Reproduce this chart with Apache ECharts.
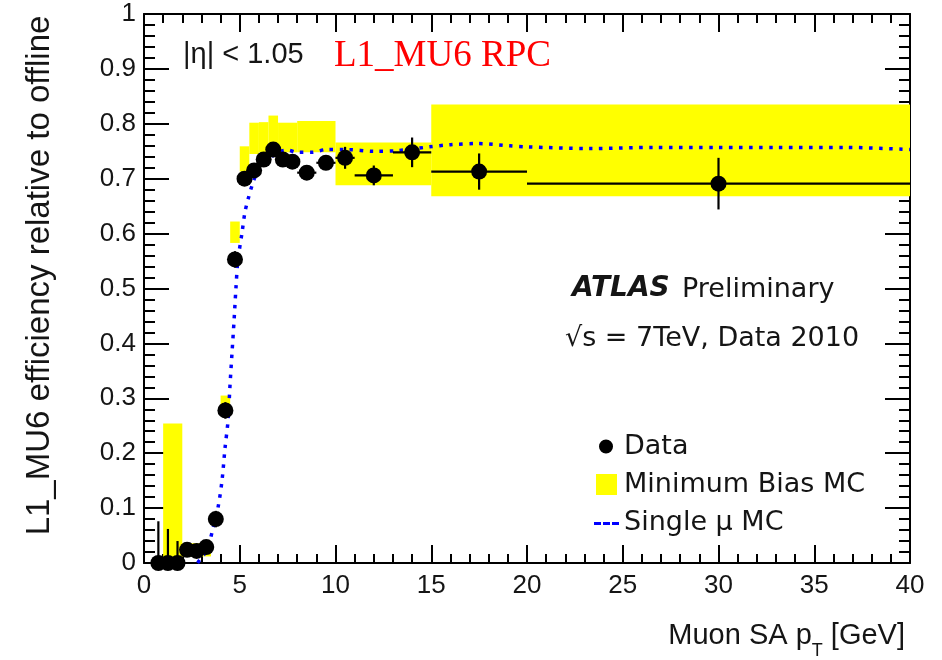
<!DOCTYPE html>
<html>
<head>
<meta charset="utf-8">
<script src="https://cdn.jsdelivr.net/npm/echarts@6/dist/echarts.min.js"></script>
<style>
html,body{margin:0;padding:0;background:#fff;}
#chart{width:942px;height:660px;}
</style>
</head>
<body>
<div id="chart"></div>
<script>
// ---- Data ----
// Data points: bin centres, half bin widths, efficiency, errors
const dataX      = [0.75,1.25,1.75,2.25,2.75,3.25,3.75,4.25,4.75,5.25,5.75,6.25,6.75,7.25,7.75,8.5,9.5,10.5,12,14,17.5,30];
const dataXHalf  = [0.25,0.25,0.25,0.25,0.25,0.25,0.25,0.25,0.25,0.25,0.25,0.25,0.25,0.25,0.25,0.5,0.5,0.5,1,1,2.5,10];
const dataEff    = [0,0,0,0.024,0.022,0.029,0.080,0.278,0.553,0.700,0.715,0.735,0.753,0.735,0.731,0.711,0.729,0.738,0.706,0.748,0.713,0.691];
const dataErrUp  = [0.076,0.062,0.040,0.012,0.010,0.010,0.015,0.015,0.015,0.010,0.010,0.010,0.010,0.010,0.010,0.010,0.010,0.020,0.018,0.027,0.033,0.047];
const dataErrDn  = [0,0,0,0.012,0.010,0.010,0.015,0.015,0.015,0.010,0.010,0.010,0.010,0.010,0.010,0.010,0.010,0.020,0.018,0.027,0.033,0.047];

// Minimum Bias MC band: bin edges and band low/high
const mcBinLo  = [1,2,4,4.5,5,5.5,6,6.5,7,8,10,15];
const mcBinHi  = [2,3.5,4.5,5,5.5,6,6.5,7,8,10,15,40];
const mcLow    = [0,0.012,0.280,0.583,0.713,0.745,0.748,0.750,0.748,0.748,0.688,0.668];
const mcHigh   = [0.254,0.036,0.305,0.622,0.759,0.802,0.803,0.815,0.802,0.805,0.766,0.835];

// Single muon MC curve
const muX = [2.8,3.0,3.3,3.6,3.86,4.07,4.23,4.39,4.49,4.6,4.7,4.8,4.9,5.12,5.27,5.43,5.69,5.9,6.2,6.6,7.0,7.5,8.0,8.8,9.5,10.6,12.0,13.2,14.9,16.0,17.4,19.1,20.0,23.3,26.6,30.0,33.0,36.7,40.0];
const muY = [0,0.010,0.024,0.063,0.100,0.149,0.209,0.260,0.323,0.385,0.440,0.500,0.550,0.602,0.639,0.662,0.693,0.710,0.725,0.738,0.748,0.752,0.748,0.748,0.753,0.753,0.750,0.751,0.758,0.762,0.764,0.760,0.758,0.755,0.757,0.757,0.757,0.757,0.753];

// Axis setup
const xMin = 0, xMax = 40, xStep = 5;
const yMin = 0, yMax = 1, yStep = 0.1;

// ---- Build options ----
const mcData  = mcBinLo.map((lo,i)=>[lo, mcBinHi[i], mcLow[i], mcHigh[i]]);
const ptData  = dataX.map((x,i)=>[x, dataEff[i]]);
const errData = dataX.map((x,i)=>[x, dataEff[i], x-dataXHalf[i], x+dataXHalf[i], dataEff[i]-dataErrDn[i], dataEff[i]+dataErrUp[i]]);
const muData  = muX.map((x,i)=>[x, muY[i]]);

const labelFont = 'Liberation Sans';
const txt = '#151515';

const chart = echarts.init(document.getElementById('chart'), null, {renderer:'canvas'});

function axisCommon(showLabel, isY){
  return {
    axisLine:{show:true, onZero:false, lineStyle:{color:'#000', width:2}},
    axisTick:{show:true, inside:true, length:isY?25:18, lineStyle:{color:'#000', width:2}},
    minorTick:{show:true, splitNumber:5, length:isY?11:9, lineStyle:{color:'#000', width:2}},
    splitLine:{show:false},
    minorSplitLine:{show:false},
    axisLabel:{show:showLabel, fontFamily:labelFont, fontSize:26, color:txt, margin:isY?8:10,
      formatter: v => (v===0?'0':(Math.abs(v-1)<1e-9?'1':(isY? v.toFixed(1): String(v))))}
  };
}

const option = {
  backgroundColor:'#fff',
  animation:false,
  grid:{left:144, right:32, top:14, bottom:95, containLabel:false},
  xAxis:[
    Object.assign({type:'value', min:xMin, max:xMax, interval:xStep, position:'bottom',
      name:'Muon SA p{s|T} [GeV]', nameLocation:'end', nameGap:-5,
      nameTextStyle:{align:'right', verticalAlign:'top', padding:[49,0,0,0], fontFamily:labelFont, fontSize:29, color:txt,
        rich:{s:{fontFamily:labelFont, fontSize:18, color:txt, padding:[30,0,0,0]}}}
    }, axisCommon(true,false)),
    Object.assign({type:'value', min:xMin, max:xMax, interval:xStep, position:'top'}, axisCommon(false,false))
  ],
  yAxis:[
    Object.assign({type:'value', min:yMin, max:yMax, interval:yStep, position:'left',
      name:'L1_MU6 efficiency relative to offline', nameLocation:'middle', nameRotate:90, nameGap:88,
      nameTextStyle:{fontFamily:labelFont, fontSize:33, color:txt, padding:[0,0,0,26]}
    }, axisCommon(true,true)),
    Object.assign({type:'value', min:yMin, max:yMax, interval:yStep, position:'right'}, axisCommon(false,true))
  ],
  legend:{
    left:588, top:428, orient:'vertical', itemGap:11, itemWidth:26, itemHeight:21,
    textStyle:{fontFamily:'DejaVu Sans', fontSize:27, color:txt},
    data:[
      {name:'Data', icon:'path://M0,0L0,0M21,21L21,21M10.5,3.5A7,7 0 1,0 10.51,3.5Z'},
      {name:'Minimum Bias MC', icon:'path://M0,0L0,0M26,21L26,21M3,0H24V21H3Z'},
      {name:'Single μ MC', icon:'path://M0,0L0,0M26,21L26,21M1,10H8V13H1ZM10,10H17V13H10ZM19,10H26V13H19Z'}
    ]
  },
  graphic:[
    {type:'text', left:183, top:40, style:{text:'|η| < 1.05', fontFamily:labelFont, fontSize:29, fill:txt}},
    {type:'text', left:334, top:38, style:{text:'L1_MU6 RPC', fontFamily:'Liberation Serif', fontSize:37, fill:'#ff0000'}},
    {type:'text', left:572, top:275, style:{text:'ATLAS', fontFamily:'DejaVu Sans', fontStyle:'italic', fontWeight:'bold', fontSize:28, fill:txt}},
    {type:'text', left:682, top:276, style:{text:'Preliminary', fontFamily:'DejaVu Sans', fontSize:27, fill:txt}},
    {type:'text', left:565, top:325, style:{text:'√s = 7TeV, Data 2010', fontFamily:'DejaVu Sans', fontSize:27, fill:txt}}
  ],
  series:[
    {
      name:'Minimum Bias MC', type:'custom', xAxisIndex:0, yAxisIndex:0, z:1,
      itemStyle:{color:'#ffff00'},
      encode:{x:[0,1], y:[2,3]},
      data:mcData,
      renderItem:function(params, api){
        const p0 = api.coord([api.value(0), api.value(3)]);
        const p1 = api.coord([api.value(1), api.value(2)]);
        return {type:'rect', shape:{x:p0[0], y:p0[1], width:p1[0]-p0[0], height:p1[1]-p0[1]},
          style:{fill:'#ffff00'}};
      }
    },
    {
      name:'Single μ MC', type:'line', xAxisIndex:0, yAxisIndex:0, z:3,
      data:muData, smooth:0.3, showSymbol:false, symbol:'none',
      itemStyle:{color:'#0000ff'},
      lineStyle:{color:'#0000ff', width:3.5, type:[3.5,6.5], cap:'butt'}
    },
    {
      name:'errors', type:'custom', xAxisIndex:0, yAxisIndex:0, z:4,
      encode:{x:[2,3], y:[4,5]},
      data:errData,
      renderItem:function(params, api){
        const c  = api.coord([api.value(0), api.value(1)]);
        const xl = api.coord([api.value(2), api.value(1)]);
        const xh = api.coord([api.value(3), api.value(1)]);
        const yl = api.coord([api.value(0), api.value(4)]);
        const yh = api.coord([api.value(0), api.value(5)]);
        return {type:'group', children:[
          {type:'line', shape:{x1:xl[0], y1:c[1], x2:xh[0], y2:c[1]}, style:{stroke:'#000', lineWidth:2.2}},
          {type:'line', shape:{x1:c[0], y1:yl[1], x2:c[0], y2:yh[1]}, style:{stroke:'#000', lineWidth:2.2}}
        ]};
      }
    },
    {
      name:'Data', type:'scatter', xAxisIndex:0, yAxisIndex:0, z:5,
      data:ptData, symbol:'circle', symbolSize:16,
      itemStyle:{color:'#000', opacity:1}
    }
  ]
};
chart.setOption(option);
</script>
</body>
</html>
